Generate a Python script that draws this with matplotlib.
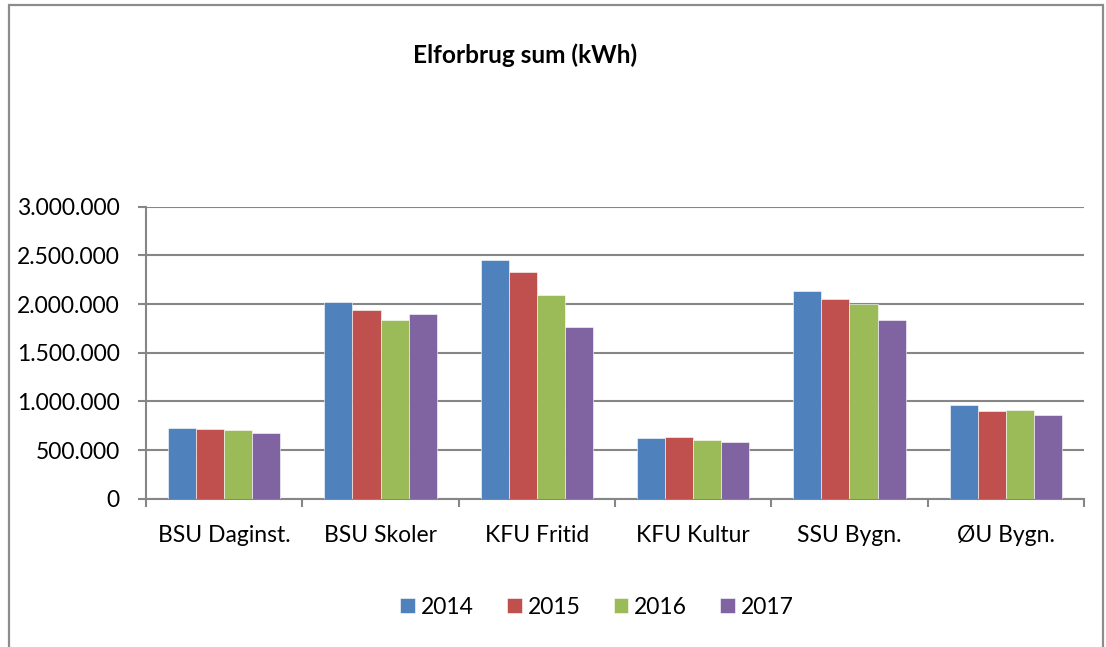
import matplotlib
matplotlib.use("Agg")
import matplotlib.pyplot as plt
import numpy as np
from matplotlib.patches import Rectangle
from matplotlib.ticker import FuncFormatter, FixedLocator

categories = ["BSU Daginst.", "BSU Skoler", "KFU Fritid", "KFU Kultur", "SSU Bygn.", "ØU Bygn."]
years = ["2014", "2015", "2016", "2017"]
v2014 = [722000, 2024000, 2449000, 620000, 2137000, 966000]
v2015 = [712000, 1938000, 2332000, 630000, 2055000, 901000]
v2016 = [705000, 1839000, 2096000, 603000, 1997000, 908000]
v2017 = [671000, 1894000, 1767000, 579000, 1832000, 856000]
series = [v2014, v2015, v2016, v2017]
colors = ["#4F81BD", "#C0504D", "#9BBB59", "#8064A2"]
yticks = [0, 500000, 1000000, 1500000, 2000000, 2500000, 3000000]

plt.rcParams['font.family'] = ['Lato', 'DejaVu Sans']

W, H = 1106, 647
fig = plt.figure(figsize=(W / 100, H / 100), dpi=100)
fig.patch.set_facecolor("white")

# outer chart border
fig.add_artist(Rectangle((9 / W, -0.05), (1103 - 9) / W, 1.05 - 5 / H,
                         transform=fig.transFigure, fill=False,
                         edgecolor="#8c8c8c", linewidth=1.6))

left, right, top, bottom = 146, 1084, 206.7, 498.7
ax = fig.add_axes([left / W, 1 - bottom / H, (right - left) / W, (bottom - top) / H])

x = np.arange(len(categories))
bw = 0.18
for i, (vals, c, yr) in enumerate(zip(series, colors, years)):
    ax.bar(x + (i - 1.5) * bw, vals, width=bw, color=c, label=yr,
           edgecolor="white", linewidth=0.4, zorder=3)

ax.set_xlim(-0.5, len(categories) - 0.5)
ax.set_ylim(0, 3000000)
ax.set_yticks(yticks)
ax.yaxis.set_major_formatter(FuncFormatter(lambda v, p: f"{int(v):,}".replace(",", ".")))
ax.set_xticks(x)
ax.set_xticklabels(categories)
ax.xaxis.set_minor_locator(FixedLocator(np.arange(-0.5, len(categories), 1.0)))

grid_c = "#868686"
ax.yaxis.grid(True, color=grid_c, linewidth=1.5, zorder=0)
ax.set_axisbelow(True)
for s in ["top", "right"]:
    ax.spines[s].set_visible(False)
for s in ["left", "bottom"]:
    ax.spines[s].set_color(grid_c)
    ax.spines[s].set_linewidth(1.5)

ax.tick_params(axis="y", which="major", direction="out", length=6, width=1.5,
               color=grid_c, labelsize=16.5, pad=13)
ax.tick_params(axis="x", which="major", length=0, labelsize=16.5, pad=19)
ax.tick_params(axis="x", which="minor", direction="out", length=6, width=1.5, color=grid_c)

fig.text(525.5 / W, 1 - 55 / H, "Elforbrug sum (kWh)", ha="center", va="center",
         fontsize=17.6, fontweight="bold")

leg = fig.legend(loc="center", bbox_to_anchor=(597 / W, 1 - 607 / H), ncol=4,
                 frameon=False, fontsize=16.5, handlelength=0.65, handleheight=0.65,
                 handletextpad=0.25, columnspacing=1.45)

fig.savefig("out.png", dpi=100, facecolor="white")
